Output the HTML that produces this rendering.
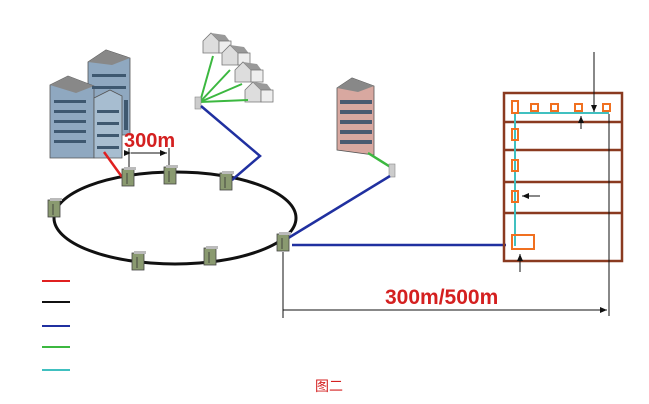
<!DOCTYPE html>
<html><head><meta charset="utf-8"><style>
html,body{margin:0;padding:0;background:#fff;width:649px;height:404px;overflow:hidden}
</style></head><body>
<svg width="649" height="404" viewBox="0 0 649 404" xmlns="http://www.w3.org/2000/svg">
<defs>
<g id="cab"><rect x="-6" y="-9" width="12" height="17" fill="#8a9a70" stroke="#444" stroke-width="0.8"/><rect x="-4" y="-11" width="12" height="3" fill="#bbb"/><line x1="-1" y1="-5" x2="-1" y2="6" stroke="#333" stroke-width="0.8"/></g>
<g id="house"><polygon points="0,8 8,0 16,8 16,20 0,20" fill="#ddd" stroke="#777" stroke-width="0.8"/><polygon points="8,0 22,2 28,10 16,8" fill="#999"/><rect x="16" y="8" width="12" height="12" fill="#eee" stroke="#777" stroke-width="0.8"/></g>
<marker id="ar" markerWidth="8" markerHeight="8" refX="7" refY="4" orient="auto"><path d="M0,1 L7,4 L0,7 z" fill="#111"/></marker>
</defs>
<ellipse cx="175" cy="218" rx="121" ry="46" fill="none" stroke="#111" stroke-width="3"/>
<!-- office buildings -->
<polygon points="88,62 106,50 130,58 130,135 88,135" fill="#8fa8c0" stroke="#555" stroke-width="0.8"/>
<polygon points="50,85 68,76 94,86 94,158 50,158" fill="#8fa8c0" stroke="#555" stroke-width="0.8"/>
<polygon points="94,98 110,90 122,96 122,158 94,158" fill="#a7bdd0" stroke="#555" stroke-width="0.8"/>
<polygon points="50,85 68,76 94,86 76,93" fill="#888"/>
<polygon points="88,62 106,50 130,58 112,65" fill="#888"/>
<g fill="#3e5870">
<rect x="54" y="100" width="32" height="3"/><rect x="54" y="110" width="32" height="3"/><rect x="54" y="120" width="32" height="3"/><rect x="54" y="130" width="32" height="3"/><rect x="54" y="140" width="32" height="3"/>
<rect x="97" y="110" width="22" height="3"/><rect x="97" y="122" width="22" height="3"/><rect x="97" y="134" width="22" height="3"/><rect x="97" y="146" width="22" height="3"/>
<rect x="92" y="74" width="34" height="3"/><rect x="92" y="86" width="34" height="3"/><rect x="124" y="100" width="4" height="30"/></g>
<line x1="104" y1="152" x2="122" y2="177" stroke="#e02020" stroke-width="2.5"/>
<text x="124" y="147" font-family="Liberation Sans,sans-serif" font-weight="bold" font-size="20" fill="#d42020">300m</text>
<line x1="129" y1="148" x2="129" y2="170" stroke="#111" stroke-width="1"/>
<line x1="169" y1="148" x2="169" y2="168" stroke="#111" stroke-width="1"/>
<line x1="131" y1="153" x2="167" y2="153" stroke="#111" stroke-width="1" marker-end="url(#ar)" marker-start="url(#ar)"/>
<use href="#house" x="203" y="33"/><use href="#house" x="222" y="45"/><use href="#house" x="235" y="62"/><use href="#house" x="245" y="82"/>
<g stroke="#3cb840" stroke-width="2"><line x1="200" y1="102" x2="213" y2="56"/><line x1="200" y1="102" x2="230" y2="70"/><line x1="200" y1="102" x2="242" y2="84"/><line x1="200" y1="102" x2="248" y2="100"/></g>
<rect x="195" y="97" width="6" height="12" fill="#ccc" stroke="#888" stroke-width="0.6"/>
<polyline points="201,106 260,156 232,180" fill="none" stroke="#2030a0" stroke-width="2.5"/>
<polygon points="337,88 352,78 374,86 374,155 337,150" fill="#d8a8a0" stroke="#555" stroke-width="0.8"/>
<polygon points="337,88 352,78 374,86 358,92" fill="#888"/>
<g fill="#4a5a70"><rect x="340" y="100" width="32" height="4"/><rect x="340" y="110" width="32" height="4"/><rect x="340" y="120" width="32" height="4"/><rect x="340" y="130" width="32" height="4"/><rect x="340" y="140" width="32" height="4"/></g>
<line x1="368" y1="153" x2="392" y2="168" stroke="#3cb840" stroke-width="2.5"/>
<rect x="389" y="164" width="6" height="13" fill="#ccc" stroke="#888" stroke-width="0.6"/>
<line x1="390" y1="176" x2="285" y2="240" stroke="#2030a0" stroke-width="2.5"/>
<line x1="292" y1="245" x2="506" y2="245" stroke="#2030a0" stroke-width="2.5"/>
<use href="#cab" x="128" y="178"/><use href="#cab" x="170" y="176"/><use href="#cab" x="226" y="182"/><use href="#cab" x="54" y="209"/><use href="#cab" x="138" y="262"/><use href="#cab" x="210" y="257"/><use href="#cab" x="283" y="243"/>
<g stroke="#8a3a20" stroke-width="2.5" fill="none"><rect x="504" y="93" width="118" height="168"/>
<line x1="504" y1="122" x2="622" y2="122"/><line x1="504" y1="150" x2="622" y2="150"/><line x1="504" y1="182" x2="622" y2="182"/><line x1="504" y1="213" x2="622" y2="213"/></g>
<polyline points="515,246 515,113 609,113" fill="none" stroke="#40c0c0" stroke-width="2"/>
<g stroke="#f07020" stroke-width="2" fill="none">
<rect x="512" y="101" width="6" height="12"/><rect x="531" y="104" width="7" height="7"/><rect x="551" y="104" width="7" height="7"/><rect x="575" y="104" width="7" height="7"/><rect x="603" y="104" width="7" height="7"/>
<rect x="512" y="129" width="6" height="11"/><rect x="512" y="160" width="6" height="11"/><rect x="512" y="191" width="6" height="11"/><rect x="512" y="235" width="22" height="14"/></g>
<g stroke="#111" stroke-width="1">
<line x1="594" y1="52" x2="594" y2="112" marker-end="url(#ar)"/>
<line x1="581" y1="129" x2="581" y2="116" marker-end="url(#ar)"/>
<line x1="540" y1="196" x2="522" y2="196" marker-end="url(#ar)"/>
<line x1="520" y1="272" x2="520" y2="254" marker-end="url(#ar)"/>
<line x1="283" y1="252" x2="283" y2="318"/>
<line x1="609" y1="114" x2="609" y2="316"/>
<line x1="283" y1="310" x2="607" y2="310" marker-end="url(#ar)"/></g>
<text x="385" y="304" font-family="Liberation Sans,sans-serif" font-weight="bold" font-size="21" fill="#d42020">300m/500m</text>
<line x1="42" y1="281" x2="70" y2="281" stroke="#e02020" stroke-width="2"/>
<line x1="42" y1="302" x2="70" y2="302" stroke="#111" stroke-width="2"/>
<line x1="42" y1="326" x2="70" y2="326" stroke="#2030a0" stroke-width="2"/>
<line x1="42" y1="347" x2="70" y2="347" stroke="#3cb840" stroke-width="2"/>
<line x1="42" y1="370" x2="70" y2="370" stroke="#40c0c0" stroke-width="2"/>
<text x="315" y="391" font-family="Liberation Sans,'Noto Sans CJK SC',sans-serif" font-size="14" fill="#d42020">图二</text>
</svg>
</body></html>
